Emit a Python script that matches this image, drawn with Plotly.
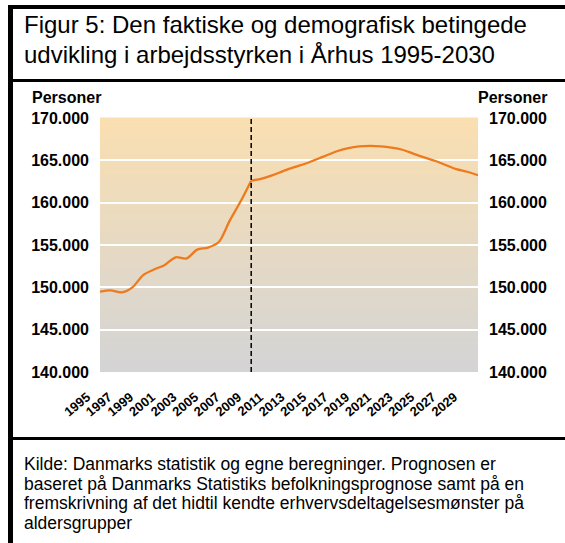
import plotly.graph_objects as go

# ---- data ----
actual_years = list(range(1995, 2010))
actual_values = [149500, 149650, 149400, 150000, 151450, 152100, 152650, 153550,
                 153400, 154450, 154700, 155350, 157850, 160100, 162600]
forecast_years = list(range(2009, 2031))
forecast_values = [162600, 162850, 163250, 163750, 164200, 164600, 165100, 165600,
                   166100, 166450, 166650, 166700, 166650, 166500, 166250, 165800,
                   165350, 164950, 164450, 163950, 163650, 163250]
tick_years = list(range(1995, 2030, 2))
y_ticks = [140000, 145000, 150000, 155000, 160000, 165000, 170000]

title_lines = ["Figur 5: Den faktiske og demografisk betingede",
               "udvikling i arbejdsstyrken i Århus 1995-2030"]
source_lines = ["Kilde: Danmarks statistik og egne beregninger. Prognosen er",
                "baseret på Danmarks Statistiks befolkningsprognose samt på en",
                "fremskrivning af det hidtil kendte erhvervsdeltagelsesmønster på",
                "aldersgrupper"]
axis_label = "Personer"

# ---- layout geometry (pixels) ----
WIDTH, HEIGHT = 565, 543
L, R, T, B = 100, 478, 118, 372
PW, PH = R - L, B - T


def px(x):
    return (x - L) / PW


def py(y):
    return (B - y) / PH


FONT = "Liberation Sans, Arial, sans-serif"
LINE_COLOR = "rgb(238,122,30)"

fig = go.Figure()
fig.add_trace(go.Scatter(x=actual_years, y=actual_values, mode="lines",
                         line=dict(color=LINE_COLOR, width=2.3, shape="spline", smoothing=0.8),
                         hoverinfo="skip", showlegend=False))
fig.add_trace(go.Scatter(x=forecast_years, y=forecast_values, mode="lines",
                         line=dict(color=LINE_COLOR, width=2.3, shape="spline", smoothing=0.8),
                         hoverinfo="skip", showlegend=False))
# invisible trace to carry the right-hand axis
fig.add_trace(go.Scatter(x=forecast_years, y=forecast_values, yaxis="y2", mode="lines",
                         line=dict(width=0), opacity=0, hoverinfo="skip", showlegend=False))

shapes = []
# gradient background of plot area
top_c = (250, 223, 176)
bot_c = (211, 212, 214)
N = 90
for i in range(N):
    f = (i + 0.5) / N
    c = tuple(round(bot_c[k] + (top_c[k] - bot_c[k]) * f) for k in range(3))
    shapes.append(dict(type="rect", xref="x domain", yref="y domain",
                       x0=0, x1=1, y0=i / N, y1=(i + 1) / N + 0.002,
                       fillcolor="rgb(%d,%d,%d)" % c, line=dict(width=0), layer="below"))

# dashed separator between actual and forecast
split_year = actual_years[-1]
shapes.append(dict(type="line", xref="x", yref="y domain", x0=split_year, x1=split_year,
                   y0=0, y1=1, line=dict(color="black", width=1.5, dash="5px,3px")))

# frame
def rect(x0, y0, x1, y1):
    return dict(type="rect", xref="paper", yref="paper", x0=px(x0), x1=px(x1),
                y0=py(y1), y1=py(y0), fillcolor="black", line=dict(width=0))

shapes += [rect(8, 5, 13, 543), rect(8, 5, 565, 9), rect(8, 79, 565, 82), rect(8, 437, 565, 440)]

annotations = []
def text(t, x, y_center, size, anchor="left", bold=False):
    annotations.append(dict(text=("<b>%s</b>" % t) if bold else t, xref="paper", yref="paper",
                            x=px(x), y=py(y_center), xanchor=anchor, yanchor="middle",
                            showarrow=False, font=dict(family=FONT, size=size, color="black")))

for i, t in enumerate(title_lines):
    text(t, 21.5, 33.3 + i * 29.4 - 0.35 * 24, 24)
for i, t in enumerate(source_lines):
    text(t, 21.5, 470 + i * 19.8 - 0.35 * 17.5, 17.5)
text(axis_label, 29.5, 103 - 0.35 * 16, 16, bold=True)
text(axis_label, 549, 103 - 0.35 * 16, 16, anchor="right", bold=True)

tickfont = dict(family=FONT, size=16, color="black", weight="bold")
fig.update_layout(
    width=WIDTH, height=HEIGHT,
    margin=dict(l=L, r=WIDTH - R, t=T, b=HEIGHT - B, pad=0),
    paper_bgcolor="white", plot_bgcolor="rgb(230,220,200)",
    separators=",.",
    shapes=shapes, annotations=annotations,
    xaxis=dict(range=[actual_years[0], forecast_years[-1]], tickvals=tick_years,
               ticktext=[str(y) for y in tick_years], tickangle=-40,
               tickfont=dict(family=FONT, size=13, color="black", weight="bold"),
               showgrid=False, zeroline=False, showline=False, ticks="",
               ticklabelstandoff=14, ticklabelshift=-13, fixedrange=True),
    yaxis=dict(range=[y_ticks[0], y_ticks[-1]], tickvals=y_ticks, tickformat=",.0f",
               tickfont=tickfont, showgrid=True, gridcolor="white", gridwidth=1.5,
               zeroline=False, showline=False, ticks="", ticklabelstandoff=10),
    yaxis2=dict(range=[y_ticks[0], y_ticks[-1]], tickvals=y_ticks, tickformat=",.0f",
                tickfont=tickfont, overlaying="y", side="right", showgrid=False,
                zeroline=False, showline=False, ticks="", ticklabelstandoff=10),
    showlegend=False,
)

fig.write_html("out.html", config={"displayModeBar": False},
               post_script="document.body.style.margin='0px';")
